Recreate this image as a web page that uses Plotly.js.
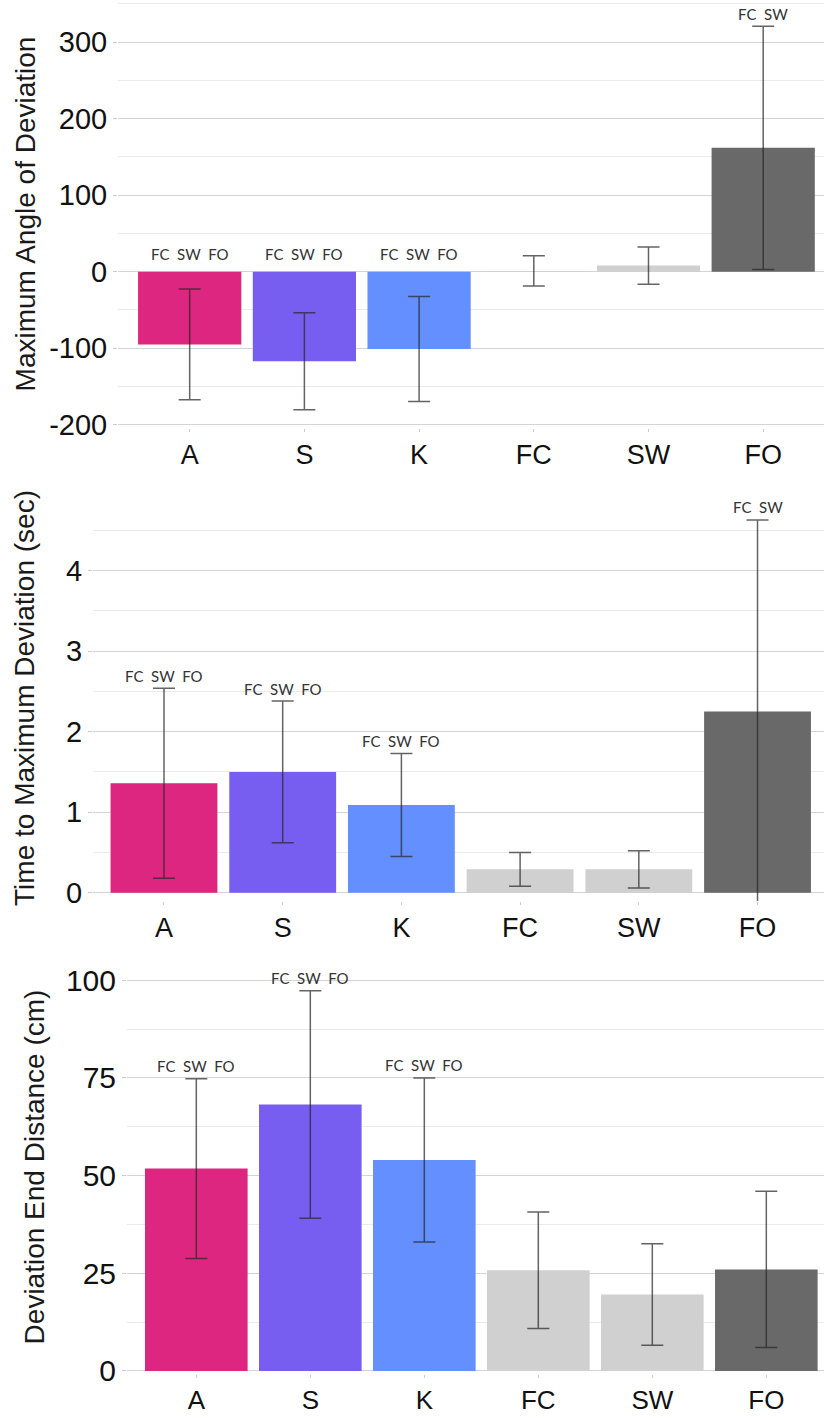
<!DOCTYPE html>
<html>
<head>
<meta charset="utf-8">
<script src="https://cdn.plot.ly/plotly-3.0.1.min.js"></script>
<style>html,body{margin:0;padding:0;background:#fff;}</style>
</head>
<body>
<div id="chart" style="width:824px;height:1418px;"></div>
<script>
// ---- data ----
const categories = ['A', 'S', 'K', 'FC', 'SW', 'FO'];
const barColors = ['#DC267F', '#785EF0', '#648FFF', '#D0D0D0', '#D0D0D0', '#696969'];

const angleMean = [-95, -117, -101, 1, 8, 162];
const angleSD   = [72.5, 63.5, 68.7, 19.8, 24.4, 159];
const angleSig  = ['FC  SW  FO', 'FC  SW  FO', 'FC  SW  FO', '', '', 'FC  SW'];
const angleTicks = [-200, -100, 0, 100, 200, 300];

const timeMean = [1.36, 1.50, 1.09, 0.29, 0.29, 2.25];
const timeSD   = [1.18, 0.88, 0.64, 0.21, 0.23, 2.38];
const timeSig  = ['FC  SW  FO', 'FC  SW  FO', 'FC  SW  FO', '', '', 'FC  SW'];
const timeTicks = [0, 1, 2, 3, 4];

const distMean = [51.8, 68.2, 54.0, 25.8, 19.6, 26.0];
const distSD   = [23.0, 29.1, 21.0, 14.9, 13.0, 20.0];
const distSig  = ['FC  SW  FO', 'FC  SW  FO', 'FC  SW  FO', '', '', ''];
const distTicks = [0, 25, 50, 75, 100];

const yTitles = ['Maximum Angle of Deviation', 'Time to Maximum Deviation (sec)', 'Deviation End Distance (cm)'];

// ---- build ----
const W = 824, H = 1418;
const TXT = 'Liberation Sans, Arial, Helvetica, sans-serif';
const panels = [
  {mean: angleMean, sd: angleSD, sig: angleSig, ticks: angleTicks, title: yTitles[0],
   xdom: [118, 824], ydom: [0, 428], xr: [-0.625, 5.53], yr: [-204.3, 355.2],
   minor: 50, tickSize: 29, standoff: 5, xSize: 27, xStand: 0},
  {mean: timeMean, sd: timeSD, sig: timeSig, ticks: timeTicks, title: yTitles[1],
   xdom: [93, 824], ydom: [495, 901], xr: [-0.598, 5.56], yr: [-0.103, 4.94],
   minor: 0.5, tickSize: 29, standoff: 23, xSize: 27, xStand: 0},
  {mean: distMean, sd: distSD, sig: distSig, ticks: distTicks, title: yTitles[2],
   xdom: [127, 824], ydom: [960, 1374], xr: [-0.608, 5.506], yr: [-0.77, 105.2],
   minor: 12.5, tickSize: 30, standoff: 13, xSize: 26, xStand: 0}
];

const traces = [];
const annotations = [];
const layout = {
  width: W, height: H,
  margin: {l: 0, r: 0, t: 0, b: 0},
  paper_bgcolor: '#ffffff', plot_bgcolor: '#ffffff',
  showlegend: false, bargap: 0.1,
  font: {family: TXT, color: '#1a1a1a'}
};

panels.forEach((p, i) => {
  const n = i === 0 ? '' : String(i + 1);
  traces.push({
    type: 'bar', x: categories, y: p.mean,
    xaxis: 'x' + n, yaxis: 'y' + n,
    marker: {color: barColors, line: {width: 0}},
    error_y: {type: 'data', array: p.sd, visible: true, color: 'rgba(40,40,40,0.72)', thickness: 1.5, width: 11},
    hoverinfo: 'x+y'
  });
  layout['xaxis' + n] = {
    domain: [p.xdom[0] / W, p.xdom[1] / W], anchor: 'y' + n,
    type: 'category', range: p.xr, fixedrange: true,
    showgrid: false, zeroline: false, showline: false,
    ticks: 'outside', ticklen: 3, tickcolor: '#cccccc', tickwidth: 1,
    ticklabelstandoff: p.xStand,
    tickfont: {size: p.xSize, family: TXT, color: '#111111'}
  };
  layout['yaxis' + n] = {
    domain: [1 - p.ydom[1] / H, 1 - p.ydom[0] / H], anchor: 'x' + n,
    range: p.yr, tickmode: 'array', tickvals: p.ticks,
    ticktext: p.ticks.map(v => String(v)), fixedrange: true,
    showgrid: true, gridcolor: '#d4d4d4', gridwidth: 1,
    zeroline: true, zerolinecolor: '#d4d4d4', zerolinewidth: 1,
    showline: false,
    minor: {dtick: p.minor, tick0: 0, showgrid: true, gridcolor: '#ebebeb', gridwidth: 1},
    ticks: 'outside', ticklen: 4, tickcolor: '#cccccc', tickwidth: 1,
    tickfont: {size: p.tickSize, family: TXT, color: '#111111'},
    title: {text: p.title, font: {size: 28, family: TXT, color: '#1a1a1a'}, standoff: p.standoff}
  };
  categories.forEach((c, j) => {
    if (!p.sig[j]) return;
    const top = p.mean[j] + p.sd[j];
    const base = Math.max(0, top);
    annotations.push({
      xref: 'x' + n, yref: 'y' + n, x: c, y: base,
      text: p.sig[j].replace(/ /g, '\u00A0'),
      showarrow: false, xanchor: 'center', yanchor: 'middle',
      yshift: top > 0 ? 12.5 : 17.5,
      font: {family: 'Lato, Noto Sans, sans-serif', size: 15, color: '#333333'}
    });
  });
});
layout.annotations = annotations;

Plotly.newPlot('chart', traces, layout, {displayModeBar: false, staticPlot: true});
</script>
</body>
</html>
